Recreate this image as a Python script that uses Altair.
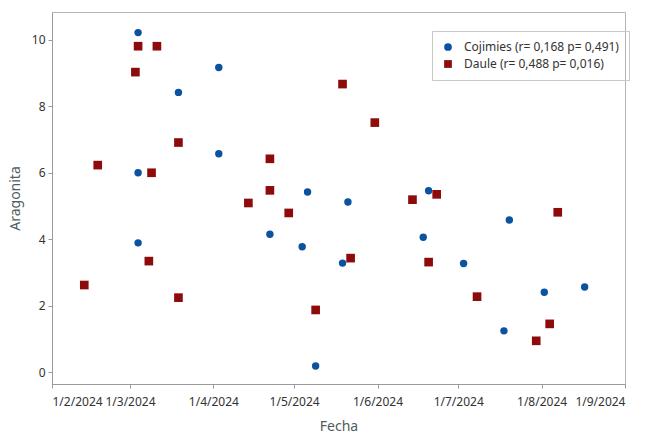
import altair as alt
import pandas as pd

# Cojimies samples
coj_fecha = ["2024-03-04", "2024-03-04", "2024-03-04", "2024-03-19", "2024-04-03",
             "2024-04-03", "2024-04-22", "2024-05-04", "2024-05-06", "2024-05-09",
             "2024-05-19", "2024-05-21", "2024-06-18", "2024-06-20", "2024-07-03",
             "2024-07-18", "2024-07-20", "2024-08-02", "2024-08-17"]
coj_arag = [10.22, 6.00, 3.89, 8.42, 9.17, 6.57, 4.15, 3.77, 5.42, 0.18,
            3.28, 5.12, 4.06, 5.46, 3.27, 1.24, 4.58, 2.40, 2.56]

# Daule samples
dau_fecha = ["2024-02-13", "2024-02-18", "2024-03-03", "2024-03-04", "2024-03-08",
             "2024-03-09", "2024-03-11", "2024-03-19", "2024-03-19", "2024-04-14",
             "2024-04-22", "2024-04-22", "2024-04-29", "2024-05-09", "2024-05-19",
             "2024-05-22", "2024-05-31", "2024-06-14", "2024-06-20", "2024-06-23",
             "2024-07-08", "2024-07-30", "2024-08-04", "2024-08-07"]
dau_arag = [2.62, 6.23, 9.03, 9.81, 3.34, 6.00, 9.81, 2.24, 6.91, 5.09,
            6.42, 5.47, 4.79, 1.87, 8.67, 3.43, 7.51, 5.19, 3.31, 5.35,
            2.27, 0.94, 1.45, 4.81]

series = ["Cojimies (r= 0,168 p= 0,491)", "Daule (r= 0,488 p= 0,016)"]
colors = ["#0b52a0", "#8e0b0b"]
shapes = ["circle", "square"]

df = pd.concat([
    pd.DataFrame({"Fecha": [f + "T00:00:00" for f in coj_fecha], "Aragonita": coj_arag, "Serie": series[0]}),
    pd.DataFrame({"Fecha": [f + "T00:00:00" for f in dau_fecha], "Aragonita": dau_arag, "Serie": series[1]}),
])

month_ticks = [alt.DateTime(year=2024, month=m, date=1) for m in range(2, 10)]

legend_style = dict(title=None, orient="none", legendX=380, legendY=19,
                    strokeColor="#c8c8c8", padding=10, symbolSize=60,
                    labelFontSize=12, labelColor="#333333", labelOffset=10,
                    labelLimit=400, rowPadding=5)

chart = alt.Chart(df).mark_point(filled=True, opacity=1).encode(
    x=alt.X("Fecha:T",
            scale=alt.Scale(domain=[month_ticks[0], month_ticks[-1]], nice=False),
            axis=alt.Axis(values=month_ticks, format="%-d/%-m/%Y", title="Fecha",
                          grid=False, tickSize=4, labelPadding=8, titlePadding=12)),
    y=alt.Y("Aragonita:Q",
            scale=alt.Scale(domain=[-0.36, 10.84], nice=False, zero=False),
            axis=alt.Axis(values=[0, 2, 4, 6, 8, 10], title="Aragonita",
                          grid=False, tickSize=4, labelPadding=3, titlePadding=9)),
    color=alt.Color("Serie:N", scale=alt.Scale(domain=series, range=colors),
                    legend=alt.Legend(**legend_style)),
    shape=alt.Shape("Serie:N", scale=alt.Scale(domain=series, range=shapes),
                    legend=alt.Legend(**legend_style)),
    size=alt.condition(alt.datum.Serie == series[0], alt.value(55), alt.value(75)),
).properties(
    width=573, height=372,
    padding={"left": 52, "top": 12, "right": 20, "bottom": 51},
    autosize="none",
).configure(
    font="Noto Sans",
).configure_view(
    stroke="#b4b4b4",
).configure_axis(
    domainColor="#9a9a9a", tickColor="#9a9a9a",
    labelFont="Noto Sans", labelFontSize=12, labelColor="#333333",
    titleFont="Noto Sans", titleFontSize=14, titleFontWeight="normal", titleColor="#4f5d5d",
)

chart.save("out.html", embed_options={"renderer": "svg", "actions": False})
